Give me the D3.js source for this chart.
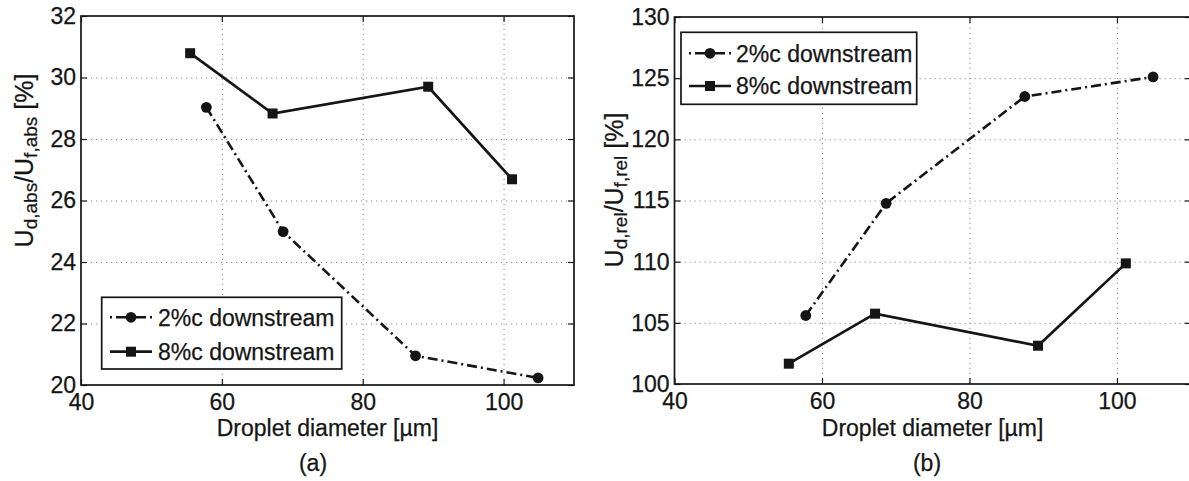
<!DOCTYPE html>
<html>
<head>
<meta charset="utf-8">
<script src="https://cdn.jsdelivr.net/npm/d3@7"></script>
<style>
  body { margin: 0; background: #fff; }
  text { font-family: "Liberation Sans", Arial, Helvetica, sans-serif; fill: #151515; stroke: #151515; stroke-width: 0.25px; }
</style>
</head>
<body>
<svg id="chart" width="1189" height="481"></svg>
<script>
// Droplet diameters [µm] for the two measurement stations
const diamCircle = [57.8, 68.7, 87.5, 104.9];   // 2%c downstream
const diamSquare = [55.5, 67.2, 89.3, 101.2];   // 8%c downstream

// (a) absolute velocity ratio [%]
const absCircle = [29.03, 24.99, 20.95, 20.23];
const absSquare = [30.79, 28.83, 29.70, 26.69];

// (b) relative velocity ratio [%]
const relCircle = [105.6, 114.77, 123.5, 125.1];
const relSquare = [101.66, 105.75, 103.13, 109.86];

const seriesNames = ["2%c downstream", "8%c downstream"];
const xTicks = [40, 60, 80, 100];
const absTicks = [20, 22, 24, 26, 28, 30, 32];
const relTicks = [100, 105, 110, 115, 120, 125, 130];
const panelTags = ["(a)", "(b)"];

const ink = "#151515";
const fontSize = 23;
const svg = d3.select("#chart");

const panels = [
  {
    xr: [81, 574], yr: [385, 16], yd: [20, 32], yTicks: absTicks,
    circle: absCircle, square: absSquare,
    sub: ["d,abs", "f,abs"], labelX: 33, labelY: 160.5,
    tagX: 313,
    legend: { x: 101.7, y: 297.3, w: 240, h: 71.7, rows: [317.3, 351.7], s0: 110, s1: 152, m: 131, tx: 158 }
  },
  {
    xr: [674.5, 1190.7], yr: [384, 17], yd: [100, 130], yTicks: relTicks,
    circle: relCircle, square: relSquare,
    sub: ["d,rel", "f,rel"], labelX: 623, labelY: 190,
    tagX: 927,
    legend: { x: 681, y: 32.3, w: 235.7, h: 72, rows: [53.3, 86], s0: 689, s1: 731, m: 710, tx: 736 }
  }
];

panels.forEach((p, i) => {
  const x = d3.scaleLinear().domain([40, 110]).range(p.xr);
  const y = d3.scaleLinear().domain(p.yd).range(p.yr);
  const w = p.xr[1] - p.xr[0], h = p.yr[0] - p.yr[1];
  const g = svg.append("g");

  // dotted grid
  const gridX = g.append("g").attr("transform", `translate(0,${p.yr[0]})`)
    .call(d3.axisBottom(x).tickValues(xTicks.slice(1)).tickSize(-h).tickFormat(""));
  const gridY = g.append("g").attr("transform", `translate(${p.xr[0]},0)`)
    .call(d3.axisLeft(y).tickValues(p.yTicks.slice(1, -1)).tickSize(-w).tickFormat(""));
  [gridX, gridY].forEach(a => {
    a.select(".domain").remove();
    a.selectAll("line").attr("stroke", "#8a8a8a").attr("stroke-width", 1).attr("stroke-dasharray", "1.2,3.8");
  });

  // axes with inward ticks on all sides
  const tickLen = 6;
  const bottom = g.append("g").attr("transform", `translate(0,${p.yr[0]})`)
    .call(d3.axisBottom(x).tickValues(xTicks).tickSize(-tickLen).tickPadding(9));
  const left = g.append("g").attr("transform", `translate(${p.xr[0]},0)`)
    .call(d3.axisLeft(y).tickValues(p.yTicks).tickSize(-tickLen).tickPadding(5));
  const top = g.append("g").attr("transform", `translate(0,${p.yr[1]})`)
    .call(d3.axisTop(x).tickValues(xTicks).tickSize(-tickLen).tickFormat(""));
  const right = g.append("g").attr("transform", `translate(${p.xr[1]},0)`)
    .call(d3.axisRight(y).tickValues(p.yTicks).tickSize(-tickLen).tickFormat(""));
  [bottom, left, top, right].forEach(a => {
    a.select(".domain").remove();
    a.selectAll("line").attr("stroke", ink).attr("stroke-width", 1.2);
    a.selectAll("text").style("font-size", fontSize + "px").attr("fill", ink)
      .style("font-family", '"Liberation Sans", Arial, Helvetica, sans-serif');
  });

  g.append("rect").attr("x", p.xr[0]).attr("y", p.yr[1]).attr("width", w).attr("height", h)
    .attr("fill", "none").attr("stroke", ink).attr("stroke-width", 1.7);

  // data
  const line = d3.line().x(d => x(d[0])).y(d => y(d[1]));
  const cData = diamCircle.map((d, k) => [d, p.circle[k]]);
  const sData = diamSquare.map((d, k) => [d, p.square[k]]);

  g.append("path").datum(cData).attr("d", line).attr("fill", "none")
    .attr("stroke", ink).attr("stroke-width", 2.6).attr("stroke-dasharray", "10,4,2,4");
  g.append("path").datum(sData).attr("d", line).attr("fill", "none")
    .attr("stroke", ink).attr("stroke-width", 2.7);

  g.selectAll(".dot").data(cData).join("circle")
    .attr("cx", d => x(d[0])).attr("cy", d => y(d[1])).attr("r", 5.4).attr("fill", ink);
  g.selectAll(".sq").data(sData).join("rect")
    .attr("x", d => x(d[0]) - 5).attr("y", d => y(d[1]) - 5)
    .attr("width", 10).attr("height", 10).attr("fill", ink);

  // legend
  const L = p.legend;
  const lg = g.append("g");
  lg.append("rect").attr("x", L.x).attr("y", L.y).attr("width", L.w).attr("height", L.h)
    .attr("fill", "#fff").attr("stroke", ink).attr("stroke-width", 1.7);
  lg.append("line").attr("x1", L.s0).attr("x2", L.s1).attr("y1", L.rows[0]).attr("y2", L.rows[0])
    .attr("stroke", ink).attr("stroke-width", 2.6).attr("stroke-dasharray", "2,4,10,4");
  lg.append("circle").attr("cx", L.m).attr("cy", L.rows[0]).attr("r", 5.4).attr("fill", ink);
  lg.append("line").attr("x1", L.s0).attr("x2", L.s1).attr("y1", L.rows[1]).attr("y2", L.rows[1])
    .attr("stroke", ink).attr("stroke-width", 2.7);
  lg.append("rect").attr("x", L.m - 5).attr("y", L.rows[1] - 5).attr("width", 10).attr("height", 10).attr("fill", ink);
  seriesNames.forEach((s, k) => {
    lg.append("text").attr("x", L.tx).attr("y", L.rows[k]).attr("dy", "0.36em")
      .style("font-size", fontSize + "px").text(s);
  });

  // axis titles
  g.append("text").attr("x", (p.xr[0] + p.xr[1]) / 2).attr("y", 435.5)
    .attr("text-anchor", "middle").style("font-size", fontSize + "px").text("Droplet diameter [µm]");

  const yl = g.append("text").attr("transform", `translate(${p.labelX},${p.labelY}) rotate(-90)`)
    .attr("text-anchor", "middle").style("font-size", "25px");
  yl.append("tspan").text("U");
  yl.append("tspan").attr("dy", 4).style("font-size", "19px").text(p.sub[0]);
  yl.append("tspan").attr("dy", -4).text("/U");
  yl.append("tspan").attr("dy", 4).style("font-size", "19px").text(p.sub[1]);
  yl.append("tspan").attr("dy", -4).text(" [%]");

  g.append("text").attr("x", p.tagX).attr("y", 471).attr("text-anchor", "middle")
    .style("font-size", fontSize + "px").text(panelTags[i]);
});
</script>
</body>
</html>
